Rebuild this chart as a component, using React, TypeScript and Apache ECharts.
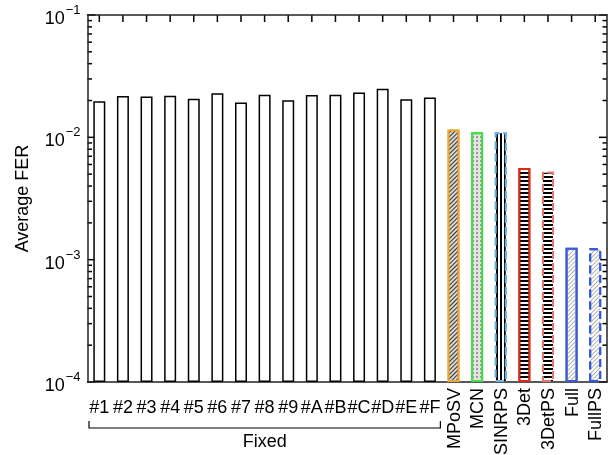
import React, { useEffect, useRef } from "react";
import * as echarts from "echarts";

const categories = [
  "#1", "#2", "#3", "#4", "#5", "#6", "#7", "#8", "#9", "#A", "#B", "#C", "#D", "#E", "#F",
  "MPoSV", "MCN", "SINRPS", "3Det", "3DetPS", "Full", "FullPS",
];
const fixedCount = 15;
const ferValues = [
  0.0197, 0.0218, 0.0216, 0.0219, 0.0207, 0.0229, 0.0193, 0.0223, 0.0201, 0.0222,
  0.0223, 0.0232, 0.025, 0.0205, 0.0212,
  0.0116, 0.011, 0.011, 0.00561, 0.00524, 0.00125, 0.00124,
];
const yMajorTicks = [1e-4, 1e-3, 1e-2, 1e-1];
const yMinorTicks: number[] = [];
for (let k = -4; k <= -2; k++) {
  for (let m = 2; m <= 9; m++) yMinorTicks.push(m * Math.pow(10, k));
}
const groupLabel = "Fixed";
const yAxisName = "Average FER";

const FONT = "Liberation Sans, Helvetica, Arial, sans-serif";

const hLines = { symbol: "rect", symbolSize: 1, dashArrayX: [1, 0], dashArrayY: [1.3, 2], rotation: 0, color: "#000" };
const vLines = { symbol: "rect", symbolSize: 1, dashArrayX: [1.3, 2], dashArrayY: [1, 0], rotation: 0, color: "#000" };
const diagDark = { symbol: "rect", symbolSize: 1, dashArrayX: [1, 0], dashArrayY: [1, 1.5], rotation: -Math.PI / 4, color: "#333" };
const diagLight = { symbol: "rect", symbolSize: 1, dashArrayX: [1, 0], dashArrayY: [1, 2], rotation: -Math.PI / 4, color: "#b0b0b0" };
const checker = { symbol: "rect", symbolSize: 1, dashArrayX: [1.2, 1.2], dashArrayY: [1.2, 1.2], rotation: 0, color: "#999" };

const styleByName: Record<string, any> = {
  MPoSV: { color: "#d8d8d8", borderColor: "#E8A838", borderType: "solid", decal: diagDark },
  MCN: { color: "#e4e4e4", borderColor: "#45DD45", borderType: "solid", decal: checker },
  SINRPS: { color: "#ffffff", borderColor: "#6BB3E0", borderType: "dashed", decal: vLines },
  "3Det": { color: "#ffffff", borderColor: "#D92B1A", borderType: "solid", decal: hLines },
  "3DetPS": { color: "#ffffff", borderColor: "#E8756A", borderType: "dashed", decal: hLines },
  Full: { color: "#ffffff", borderColor: "#3A5BD0", borderType: "solid", decal: diagLight },
  FullPS: { color: "#ffffff", borderColor: "#3355DD", borderType: "dashed", decal: diagLight },
};

const GRID = { left: 87.5, right: 9, top: 15, bottom: 73 };

export default function App() {
  const ref = useRef<HTMLDivElement>(null);
  useEffect(() => {
    if (!ref.current) return;
    const chart = echarts.init(ref.current, null, { renderer: "svg" });
    const axisLine = { show: true, lineStyle: { color: "#222", width: 1.5 } };
    const richLabel = {
      b: { fontSize: 18, fontFamily: FONT, color: "#000", lineHeight: 24, verticalAlign: "bottom" },
      e: { fontSize: 13, fontFamily: FONT, color: "#000", lineHeight: 24, verticalAlign: "top", padding: [0, 0, 0, 1] },
    };
    const fmtPow = (v: number) => {
      const e = Math.round(Math.log10(v));
      return `{b|10}{e|${e < 0 ? "\u2212" + -e : e}}`;
    };
    const yMin = yMajorTicks[0];
    const yMax = yMajorTicks[yMajorTicks.length - 1];
    const logAxis = { type: "log", logBase: 10, min: yMin, max: yMax, startValue: yMin, splitLine: { show: false } };

    const data = ferValues.map((v, i) => {
      const name = categories[i];
      const s = styleByName[name];
      if (i < fixedCount || !s) {
        return { value: v, itemStyle: { color: "#fff", borderColor: "#000", borderWidth: 1.5 } };
      }
      return {
        value: v,
        itemStyle: { color: s.color, borderColor: s.borderColor, borderWidth: 2, borderType: s.borderType, decal: s.decal },
      };
    });

    chart.setOption({
      animation: false,
      grid: { ...GRID, containLabel: false, outerBoundsMode: "none" },
      xAxis: [
        {
          type: "category", data: categories, position: "bottom",
          axisLine, axisTick: { show: false },
          axisLabel: {
            interval: 0, margin: 16, fontSize: 18, fontFamily: FONT, color: "#000",
            formatter: (v: string, i: number) => (i < fixedCount ? v : ""),
          },
        },
        {
          type: "category", data: categories, position: "bottom",
          axisLine: { show: false }, axisTick: { show: false },
          axisLabel: {
            interval: 0, margin: 6, rotate: 90, fontSize: 18, fontFamily: FONT, color: "#000",
            formatter: (v: string, i: number) => (i >= fixedCount ? v : ""),
          },
        },
        {
          type: "category", data: categories, position: "top",
          axisLine, axisTick: { show: false }, axisLabel: { show: false },
        },
      ],
      yAxis: [
        {
          ...logAxis, position: "left", axisLine,
          name: yAxisName, nameLocation: "middle", nameGap: 57,
          nameTextStyle: { fontSize: 18, fontFamily: FONT, color: "#000" },
          axisTick: { show: false },
          axisLabel: { margin: 7, customValues: yMajorTicks, formatter: fmtPow, rich: richLabel },
        },
        {
          ...logAxis, position: "right", axisLine, axisTick: { show: false }, axisLabel: { show: false },
        },
      ],
      series: [{ type: "bar", xAxisIndex: 0, yAxisIndex: 0, barWidth: 12, data }],
    });

    // inward tick marks on all four sides, placed from the axes' own scales
    const W = ref.current.clientWidth || 616;
    const H = ref.current.clientHeight || 455;
    const num = (r: any) => (Array.isArray(r) ? r[0] : r);
    const xPix = categories.map((c, i) => {
      let x = NaN;
      try { x = num(chart.convertToPixel({ xAxisIndex: 0 }, c)); } catch (e) {}
      if (!isFinite(x)) {
        const bw = (W - GRID.left - GRID.right) / categories.length;
        x = GRID.left + bw * (i + 0.5);
      }
      return x;
    });
    const gTop = GRID.top;
    const gBottom = H - GRID.bottom;
    const lMin = Math.log10(yMin);
    const lMax = Math.log10(yMax);
    const yPix = (v: number) => gBottom - ((Math.log10(v) - lMin) / (lMax - lMin)) * (gBottom - gTop);
    const band = xPix[1] - xPix[0];
    const left = xPix[0] - band / 2;
    const right = xPix[xPix.length - 1] + band / 2;
    const top = yPix(yMax);
    const bottom = yPix(yMin);
    const ln = (x1: number, y1: number, x2: number, y2: number) => ({
      type: "line",
      shape: { x1, y1, x2, y2 },
      style: { stroke: "#000", lineWidth: 1.5 },
    });
    const ticks: any[] = [];
    xPix.forEach((x) => {
      ticks.push(ln(x, bottom, x, bottom - 7));
      ticks.push(ln(x, top, x, top + 7));
    });
    const addY = (v: number, len: number) => {
      const y = yPix(v);
      ticks.push(ln(left, y, left + len, y));
      ticks.push(ln(right, y, right - len, y));
    };
    yMajorTicks.forEach((v) => addY(v, 8));
    yMinorTicks.forEach((v) => addY(v, 4.5));

    const bl = xPix[0] - 10.3;
    const br = xPix[fixedCount - 1] + 10.5;
    chart.setOption({
      graphic: [
        {
          type: "group",
          z: 100,
          children: ticks,
        },
        {
          type: "polyline",
          shape: { points: [[bl, 421], [bl, 428], [br, 428], [br, 421]] },
          style: { stroke: "#000", lineWidth: 1.2, fill: null },
        },
        {
          type: "text", x: (bl + br) / 2, y: 441,
          style: { text: groupLabel, fontSize: 18, fontFamily: FONT, fill: "#000", align: "center", verticalAlign: "middle" },
        },
      ],
    });
    return () => chart.dispose();
  }, []);
  return <div ref={ref} style={{ position: "fixed", left: 0, top: 0, width: 616, height: 455 }} />;
}
